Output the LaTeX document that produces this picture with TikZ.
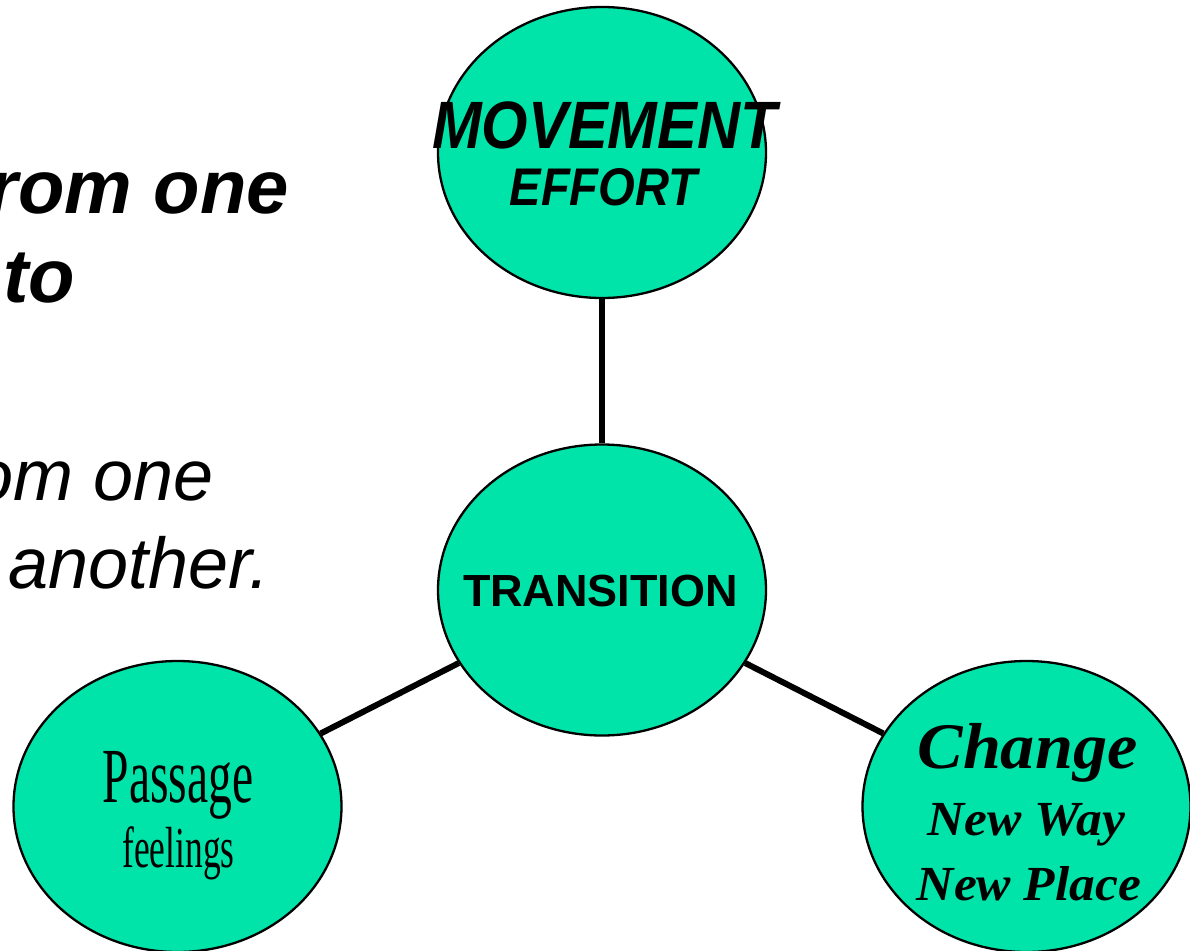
\documentclass[tikz,border=0pt]{standalone}
\usepackage{fontspec}
\setmainfont{Liberation Sans}
\newfontfamily\movfont[FakeStretch=0.89]{Liberation Sans}
\newfontfamily\passfont[FakeStretch=0.61]{Liberation Serif}
\newfontfamily\chgfont[FakeStretch=1.05]{Liberation Serif}
\usetikzlibrary{shapes.geometric}
\definecolor{bub}{RGB}{0,228,170}
\begin{document}
\begin{tikzpicture}[x=1pt,y=-1pt,
  bubble/.style={ellipse, draw=black, line width=2.3pt, fill=bub,
    minimum width=328pt, minimum height=291pt, inner sep=0pt},
  conn/.style={line width=6pt, draw=black},
  lbl/.style={inner sep=0pt, anchor=base},
  side/.style={inner sep=0pt}]
\useasboundingbox (0,0) rectangle (1190,950);
\clip (0,0) rectangle (1190,950);
% bubbles
\node[bubble] (top) at (602,152.5) {};
\node[bubble] (ctr) at (602,590) {};
\node[bubble] (lft) at (177.5,806.5) {};
\node[bubble] (rgt) at (1026.5,806.5) {};
% connectors
\draw[conn] (top) -- (ctr);
\draw[conn] (ctr) -- (lft);
\draw[conn] (ctr) -- (rgt);
% bubble texts
\node[lbl, font={\movfont\bfseries\itshape\fontsize{67}{67}\selectfont}] (mov) at (604.5,148) {MOVEMENT};
\node[lbl, font={\movfont\bfseries\itshape\fontsize{53}{53}\selectfont}] (eff) at (603.5,205) {EFFORT};
\node[lbl, font={\bfseries\fontsize{45}{45}\selectfont}] (trans) at (600.5,606) {TRANSITION};
\node[lbl, font={\passfont\fontsize{78}{78}\selectfont}] (pass) at (178,802) {Passage};
\node[lbl, font={\passfont\fontsize{58}{58}\selectfont}] (feel) at (178.5,867) {feelings};
\node[lbl, font={\chgfont\bfseries\itshape\fontsize{65}{65}\selectfont}] (chg) at (1027.5,768) {Change};
\node[lbl, font={\chgfont\bfseries\itshape\fontsize{49}{49}\selectfont}] (way) at (1026,835) {New Way};
\node[lbl, font={\chgfont\bfseries\itshape\fontsize{49}{49}\selectfont}] (place) at (1029,900) {New Place};
% side texts (cut at left edge)
\node[side, anchor=base east, font={\bfseries\itshape\fontsize{76}{76}\selectfont}] (l1) at (289,213) {rom one};
\node[side, anchor=base west, font={\bfseries\itshape\fontsize{76}{76}\selectfont}] (l2) at (3,302) {to};
\node[side, anchor=base east, font={\itshape\fontsize{72}{72}\selectfont}] (l3) at (214,500) {om one};
\node[side, anchor=base east, font={\itshape\fontsize{72}{72}\selectfont}] (l4) at (270,588) {another.};
\end{tikzpicture}
\end{document}
